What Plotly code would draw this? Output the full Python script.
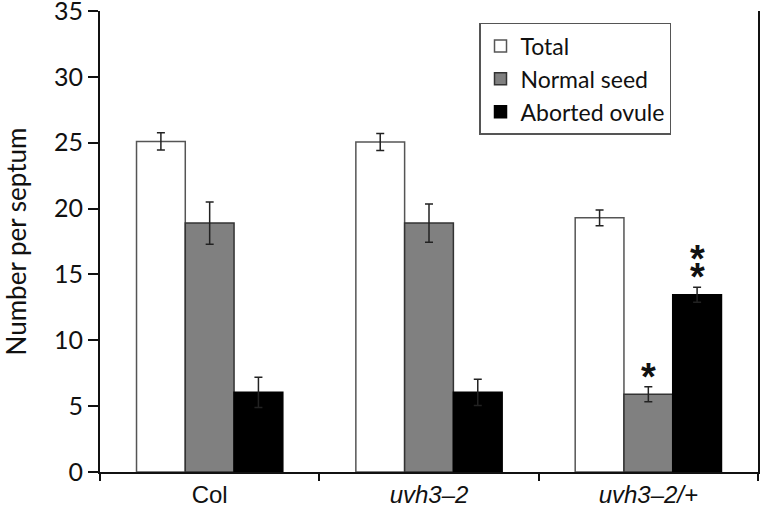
import plotly.graph_objects as go

categories = ["Col", "uvh3-2", "uvh3-2/+"]
tick_labels = ["Col", "<i>uvh3–2</i>", "<i>uvh3–2/+</i>"]
series_names = ["Total", "Normal seed", "Aborted ovule"]
total = [25.1, 25.05, 19.3]
total_err = [0.65, 0.65, 0.6]
normal = [18.9, 18.9, 5.9]
normal_err = [1.6, 1.45, 0.57]
aborted = [6.05, 6.05, 13.45]
aborted_err = [1.15, 1.0, 0.57]
y_ticks = [0, 5, 10, 15, 20, 25, 30, 35]

CAL = "Lato, Open Sans, sans-serif"
ARIAL = "Liberation Sans, Arial, sans-serif"

fig = go.Figure()
styles = [
    dict(color="#ffffff", line=dict(color="#555555", width=1.5)),
    dict(color="#808080", line=dict(color="#333333", width=1.5)),
    dict(color="#000000", line=dict(color="#000000", width=1.5)),
]
for name, vals, errs, st in zip(series_names, [total, normal, aborted],
                                [total_err, normal_err, aborted_err], styles):
    fig.add_trace(go.Bar(
        x=categories, y=vals, name=name, marker=st,
        error_y=dict(type="data", array=errs, visible=True,
                     color="#222222", thickness=1.5, width=4),
    ))

# significance asterisks
star_font = dict(family=ARIAL, size=38, color="#111111")
fig.add_annotation(x=2, y=normal[2] + normal_err[2], xref="x", yref="y",
                   text="<b>*</b>", showarrow=False, yanchor="bottom", yshift=-13,
                   font=star_font)
fig.add_annotation(x=2.222, y=aborted[2] + aborted_err[2], xref="x", yref="y",
                   text="<b>*</b>", showarrow=False, yanchor="bottom", yshift=-13,
                   font=star_font)
fig.add_annotation(x=2.222, y=aborted[2] + aborted_err[2], xref="x", yref="y",
                   text="<b>*</b>", showarrow=False, yanchor="bottom", yshift=5,
                   font=star_font)

fig.update_layout(
    width=762, height=518,
    margin=dict(l=100, r=4, t=11, b=46, autoexpand=False),
    paper_bgcolor="white", plot_bgcolor="white",
    barmode="group", bargap=0.333, bargroupgap=0,
    showlegend=True,
    legend=dict(x=0.576, y=0.974, xanchor="left", yanchor="top",
                bgcolor="white", bordercolor="#555555", borderwidth=1.5,
                font=dict(family=CAL, size=23, color="#111111"),
                traceorder="normal"),
    xaxis=dict(type="category", tickmode="array", tickvals=categories,
               ticktext=tick_labels, tickson="boundaries", ticks="outside",
               ticklen=7, tickwidth=2, tickcolor="#111111",
               showline=True, linecolor="#111111", linewidth=2,
               showgrid=False, zeroline=False, automargin=False,
               tickfont=dict(family=ARIAL, size=24, color="#111111")),
    yaxis=dict(range=[0, 35], tickmode="array", tickvals=y_ticks,
               ticks="outside", ticklen=10, tickwidth=2, tickcolor="#111111",
               showline=True, linecolor="#111111", linewidth=2, mirror=True,
               showgrid=False, zeroline=False, automargin=False,
               ticklabeloverflow="allow",
               tickfont=dict(family=CAL, size=25, color="#111111"),
               title=dict(text="Number per septum", standoff=26,
                          font=dict(family=CAL, size=26, color="#111111"))),
)

fig.write_html("out.html", config={"displayModeBar": False},
               post_script="document.body.style.margin='0';")
